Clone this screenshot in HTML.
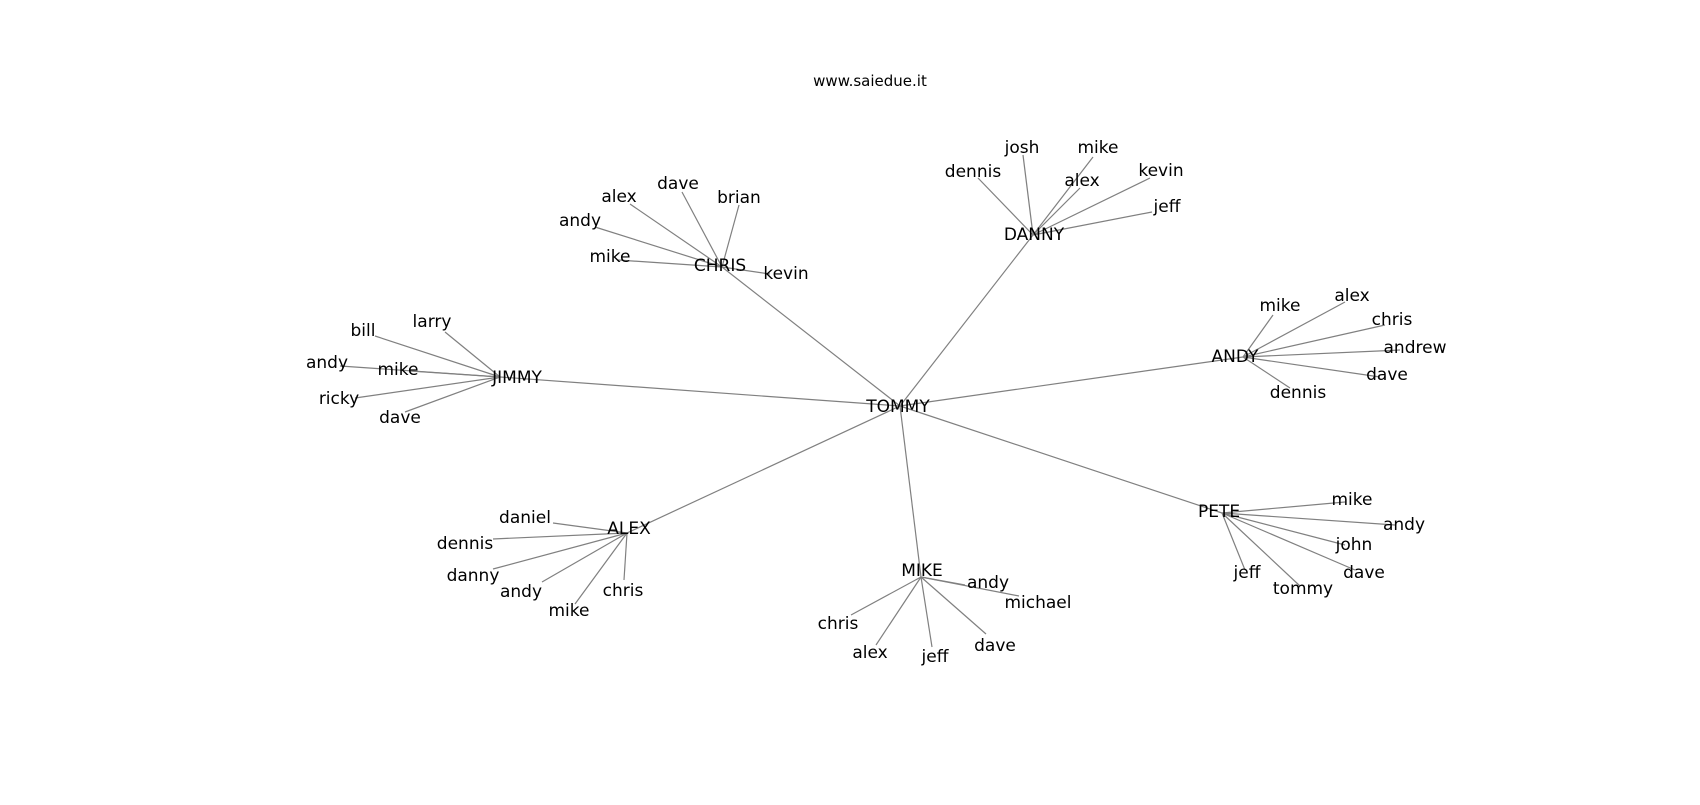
<!DOCTYPE html>
<html><head><meta charset="utf-8"><style>
html,body{margin:0;padding:0;background:#fff;}
svg text{font-family:"DejaVu Sans","Liberation Sans",sans-serif;font-size:17px;fill:#000;text-anchor:middle;dominant-baseline:central;}
</style></head><body>
<svg width="1700" height="800" viewBox="0 0 1700 800" xmlns="http://www.w3.org/2000/svg">
<g stroke="#808080" stroke-width="1.2" fill="none">
<line x1="900" y1="406" x2="722" y2="267"/>
<line x1="900" y1="406" x2="500" y2="377"/>
<line x1="900" y1="406" x2="1033" y2="235"/>
<line x1="900" y1="406" x2="1243" y2="357"/>
<line x1="900" y1="406" x2="627" y2="533"/>
<line x1="900" y1="406" x2="921" y2="577"/>
<line x1="900" y1="406" x2="1222" y2="513"/>
<!-- CHRIS -->
<line x1="722" y1="267" x2="630" y2="204"/>
<line x1="722" y1="267" x2="682" y2="192"/>
<line x1="722" y1="267" x2="739" y2="205"/>
<line x1="722" y1="267" x2="595" y2="227"/>
<line x1="722" y1="267" x2="618" y2="260"/>
<line x1="722" y1="267" x2="770" y2="274"/>
<!-- JIMMY -->
<line x1="500" y1="377" x2="445" y2="332"/>
<line x1="500" y1="377" x2="375" y2="336"/>
<line x1="500" y1="377" x2="340" y2="366"/>
<line x1="500" y1="377" x2="410" y2="371"/>
<line x1="500" y1="377" x2="355" y2="398"/>
<line x1="500" y1="377" x2="405" y2="412"/>
<!-- DANNY -->
<line x1="1033" y1="235" x2="1023" y2="155"/>
<line x1="1033" y1="235" x2="1093" y2="157"/>
<line x1="1033" y1="235" x2="978" y2="178"/>
<line x1="1033" y1="235" x2="1080" y2="188"/>
<line x1="1033" y1="235" x2="1150" y2="178"/>
<line x1="1033" y1="235" x2="1152" y2="212"/>
<!-- ANDY -->
<line x1="1243" y1="357" x2="1273" y2="315"/>
<line x1="1243" y1="357" x2="1345" y2="302"/>
<line x1="1243" y1="357" x2="1385" y2="325"/>
<line x1="1243" y1="357" x2="1400" y2="350"/>
<line x1="1243" y1="357" x2="1380" y2="377"/>
<line x1="1243" y1="357" x2="1290" y2="388"/>
<!-- ALEX -->
<line x1="627" y1="533" x2="553" y2="523"/>
<line x1="627" y1="533" x2="493" y2="539"/>
<line x1="627" y1="533" x2="493" y2="569"/>
<line x1="627" y1="533" x2="542" y2="582"/>
<line x1="627" y1="533" x2="575" y2="604"/>
<line x1="627" y1="533" x2="624" y2="580"/>
<!-- MIKE -->
<line x1="921" y1="577" x2="965" y2="585"/>
<line x1="921" y1="577" x2="1019" y2="596"/>
<line x1="921" y1="577" x2="851" y2="615"/>
<line x1="921" y1="577" x2="876" y2="645"/>
<line x1="921" y1="577" x2="932" y2="647"/>
<line x1="921" y1="577" x2="986" y2="634"/>
<!-- PETE -->
<line x1="1222" y1="513" x2="1345" y2="502"/>
<line x1="1222" y1="513" x2="1395" y2="525"/>
<line x1="1222" y1="513" x2="1345" y2="545"/>
<line x1="1222" y1="513" x2="1355" y2="570"/>
<line x1="1222" y1="513" x2="1300" y2="586"/>
<line x1="1222" y1="513" x2="1245" y2="570"/>
</g>
<text x="870" y="81" style="font-size:15px">www.saiedue.it</text>
<text x="898" y="407">TOMMY</text>
<text x="720" y="266">CHRIS</text>
<text x="619" y="197">alex</text>
<text x="678" y="184">dave</text>
<text x="739" y="198">brian</text>
<text x="580" y="221">andy</text>
<text x="610" y="257">mike</text>
<text x="786" y="274">kevin</text>
<text x="517" y="378">JIMMY</text>
<text x="432" y="322">larry</text>
<text x="363" y="331">bill</text>
<text x="327" y="363">andy</text>
<text x="398" y="370">mike</text>
<text x="339" y="399">ricky</text>
<text x="400" y="418">dave</text>
<text x="1034" y="235">DANNY</text>
<text x="1022" y="148">josh</text>
<text x="1098" y="148">mike</text>
<text x="973" y="172">dennis</text>
<text x="1082" y="181">alex</text>
<text x="1161" y="171">kevin</text>
<text x="1167" y="207">jeff</text>
<text x="1235" y="357">ANDY</text>
<text x="1280" y="306">mike</text>
<text x="1352" y="296">alex</text>
<text x="1392" y="320">chris</text>
<text x="1415" y="348">andrew</text>
<text x="1387" y="375">dave</text>
<text x="1298" y="393">dennis</text>
<text x="629" y="529">ALEX</text>
<text x="525" y="518">daniel</text>
<text x="465" y="544">dennis</text>
<text x="473" y="576">danny</text>
<text x="521" y="592">andy</text>
<text x="569" y="611">mike</text>
<text x="623" y="591">chris</text>
<text x="922" y="571">MIKE</text>
<text x="988" y="583">andy</text>
<text x="1038" y="603">michael</text>
<text x="838" y="624">chris</text>
<text x="870" y="653">alex</text>
<text x="935" y="657">jeff</text>
<text x="995" y="646">dave</text>
<text x="1219" y="512">PETE</text>
<text x="1352" y="500">mike</text>
<text x="1404" y="525">andy</text>
<text x="1354" y="545">john</text>
<text x="1364" y="573">dave</text>
<text x="1303" y="589">tommy</text>
<text x="1247" y="573">jeff</text>
</svg>
</body></html>
